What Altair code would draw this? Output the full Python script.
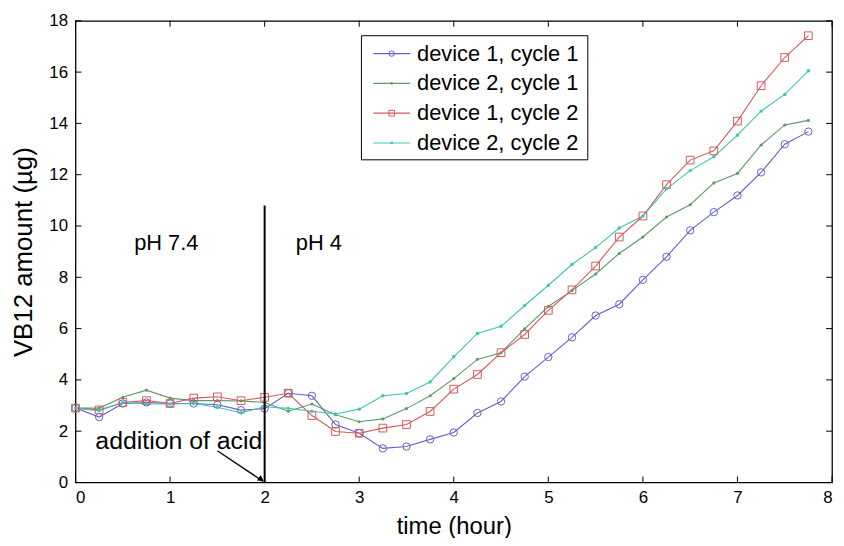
import altair as alt
import pandas as pd

FONT = "Liberation Sans"

# ---------------- data ----------------
times = [0.0, 0.25, 0.5, 0.75, 1.0, 1.25, 1.5, 1.75, 2.0, 2.25, 2.5, 2.75,
         3.0, 3.25, 3.5, 3.75, 4.0, 4.25, 4.5, 4.75, 5.0, 5.25, 5.5, 5.75,
         6.0, 6.25, 6.5, 6.75, 7.0, 7.25, 7.5, 7.75]

dev1_cyc1 = [2.90, 2.55, 3.08, 3.12, 3.08, 3.08, 3.03, 2.82, 2.88, 3.48, 3.38, 2.26,
             1.92, 1.33, 1.40, 1.68, 1.95, 2.71, 3.16, 4.13, 4.89, 5.66, 6.51, 6.95,
             7.90, 8.80, 9.83, 10.54, 11.19, 12.09, 13.19, 13.68]
dev2_cyc1 = [2.90, 2.90, 3.32, 3.60, 3.29, 3.19, 3.19, 3.18, 3.12, 2.78, 3.06, 2.64,
             2.37, 2.48, 2.88, 3.38, 4.05, 4.80, 5.06, 5.99, 6.86, 7.48, 8.13, 8.93,
             9.57, 10.35, 10.83, 11.68, 12.05, 13.16, 13.94, 14.12]
dev1_cyc2 = [2.90, 2.83, 3.12, 3.19, 3.08, 3.29, 3.34, 3.19, 3.32, 3.48, 2.61, 1.99,
             1.92, 2.12, 2.26, 2.77, 3.64, 4.21, 5.06, 5.77, 6.71, 7.51, 8.44, 9.57,
             10.39, 11.61, 12.57, 12.93, 14.09, 15.47, 16.57, 17.42]
dev2_cyc2 = [2.90, 2.80, 3.12, 3.06, 3.06, 3.08, 2.93, 2.72, 2.95, 2.89, 2.78, 2.67,
             2.86, 3.38, 3.47, 3.92, 4.90, 5.81, 6.09, 6.90, 7.69, 8.50, 9.16, 9.92,
             10.39, 11.45, 12.16, 12.70, 13.54, 14.48, 15.13, 16.05]

series_names = ["device 1, cycle 1", "device 2, cycle 1",
                "device 1, cycle 2", "device 2, cycle 2"]
series_values = [dev1_cyc1, dev2_cyc1, dev1_cyc2, dev2_cyc2]
colors = ["#6262c6", "#5e9a6c", "#d65a5a", "#3ec6b4"]
markers = [("circle", False, 55), ("circle", True, 10),
           ("square", False, 60), ("circle", True, 12)]

x_ticks = [0, 1, 2, 3, 4, 5, 6, 7, 8]
y_ticks = [0, 2, 4, 6, 8, 10, 12, 14, 16, 18]

acid_time = 2.0
acid_line_top = 10.8
ph_labels = ["pH 7.4", "pH 4"]
ph_label_x = [0.62, 2.33]
ph_label_y = [9.35, 9.35]
note_text = "addition of acid"
note_x, note_y = 0.21, 1.63
arrow_start = (1.50, 1.24)
arrow_end = (1.985, 0.04)

# ---------------- layout ----------------
W, H = 762, 465

rows = []
for name, vals in zip(series_names, series_values):
    for t, v in zip(times, vals):
        rows.append({"time": t, "amount": v, "series": name})
df = pd.DataFrame(rows)

xs = alt.Scale(domain=[0, 8], nice=False, zero=False)
ys = alt.Scale(domain=[0, 18], nice=False, zero=False)
cs = alt.Scale(domain=series_names, range=colors)

x_axis = alt.Axis(values=x_ticks, title="time (hour)", grid=False,
                  ticks=False, domain=False, labelFontSize=17,
                  labelFont=FONT, titleFont=FONT, titleFontSize=24,
                  titleFontWeight="normal", labelColor="black",
                  titleColor="black", labelPadding=7, titlePadding=9,
                  format="d")
y_axis = alt.Axis(values=y_ticks, title="VB12 amount (\u00b5g)", grid=False,
                  ticks=False, domain=False, labelFontSize=17,
                  labelFont=FONT, titleFont=FONT, titleFontSize=26,
                  titleFontWeight="normal", labelColor="black",
                  titleColor="black", labelPadding=8, titlePadding=12,
                  format="d")


def X(field="time:Q"):
    return alt.X(field, scale=xs, axis=x_axis)


def Y(field="amount:Q"):
    return alt.Y(field, scale=ys, axis=y_axis)


lines = alt.Chart(df).mark_line(strokeWidth=1.1).encode(
    x=X(), y=Y(),
    color=alt.Color("series:N", scale=cs, legend=None),
    order="time:Q",
)

layers = [lines]
for name, col, (shape, filled, size) in zip(series_names, colors, markers):
    pts = alt.Chart(df).transform_filter(alt.datum.series == name).mark_point(
        shape=shape, filled=filled, size=size, color=col,
        strokeWidth=1.0, opacity=1,
    ).encode(x=X(), y=Y())
    layers.append(pts)

# inward ticks on all four sides
xt = pd.DataFrame({"time": x_ticks})
yt = pd.DataFrame({"amount": y_ticks})
tick_len = 6
layers.append(alt.Chart(xt).mark_rule(color="black", strokeWidth=1).encode(
    x=X(), y=alt.value(H), y2=alt.value(H - tick_len)))
layers.append(alt.Chart(xt).mark_rule(color="black", strokeWidth=1).encode(
    x=X(), y=alt.value(0), y2=alt.value(tick_len)))
layers.append(alt.Chart(yt).mark_rule(color="black", strokeWidth=1).encode(
    y=Y(), x=alt.value(0), x2=alt.value(tick_len)))
layers.append(alt.Chart(yt).mark_rule(color="black", strokeWidth=1).encode(
    y=Y(), x=alt.value(W), x2=alt.value(W - tick_len)))

# vertical line for acid addition
vdf = pd.DataFrame({"time": [acid_time], "amount": [0.0], "amount2": [acid_line_top]})
layers.append(alt.Chart(vdf).mark_rule(color="black", strokeWidth=2).encode(
    x=X(), y=Y(), y2="amount2:Q"))

# pH labels
pdf = pd.DataFrame({"time": ph_label_x, "amount": ph_label_y, "label": ph_labels})
layers.append(alt.Chart(pdf).mark_text(align="left", baseline="middle", fontSize=22,
                                       font=FONT, color="black").encode(
    x=X(), y=Y(), text="label:N"))

# annotation + arrow
ndf = pd.DataFrame({"time": [note_x], "amount": [note_y], "label": [note_text]})
layers.append(alt.Chart(ndf).mark_text(align="left", baseline="middle", fontSize=25,
                                       font=FONT, color="black").encode(
    x=X(), y=Y(), text="label:N"))
adf = pd.DataFrame({"time": [arrow_start[0]], "amount": [arrow_start[1]],
                    "time2": [arrow_end[0]], "amount2": [arrow_end[1]]})
layers.append(alt.Chart(adf).mark_rule(color="black", strokeWidth=1.3).encode(
    x=X(), x2="time2:Q", y=Y(), y2="amount2:Q"))
hdf = pd.DataFrame({"time": [arrow_end[0] - 0.03], "amount": [arrow_end[1] + 0.1]})
layers.append(alt.Chart(hdf).mark_point(shape="triangle", filled=True, size=45,
                                        color="black", angle=124.5, opacity=1).encode(
    x=X(), y=Y()))

# legend box (drawn manually, MATLAB style)
box = pd.DataFrame({"k": [0]})
layers.append(alt.Chart(box).mark_rect(fill="white", stroke="black", strokeWidth=1).encode(
    x=alt.value(288), x2=alt.value(516), y=alt.value(15), y2=alt.value(140)))
for i, (name, col, (shape, filled, size)) in enumerate(zip(series_names, colors, markers)):
    yy = 33 + 30 * i
    ldf = pd.DataFrame({"label": [name]})
    layers.append(alt.Chart(ldf).mark_rule(color=col, strokeWidth=1.1).encode(
        x=alt.value(300), x2=alt.value(337), y=alt.value(yy)))
    layers.append(alt.Chart(ldf).mark_point(shape=shape, filled=filled,
                                            size=max(size * 0.55, 8), color=col,
                                            strokeWidth=1, opacity=1).encode(
        x=alt.value(318.5), y=alt.value(yy)))
    layers.append(alt.Chart(ldf).mark_text(align="left", baseline="middle", fontSize=22,
                                           font=FONT, color="black").encode(
        x=alt.value(344), y=alt.value(yy), text="label:N"))

chart = alt.layer(*layers).properties(
    width=W, height=H,
    background="white",
    autosize=alt.AutoSizeParams(type="none"),
    padding={"left": 68, "top": 11, "right": 4, "bottom": 54},
).configure_view(stroke="black", strokeWidth=1.3)

chart.save("out.html", embed_options={"renderer": "svg", "actions": False})
